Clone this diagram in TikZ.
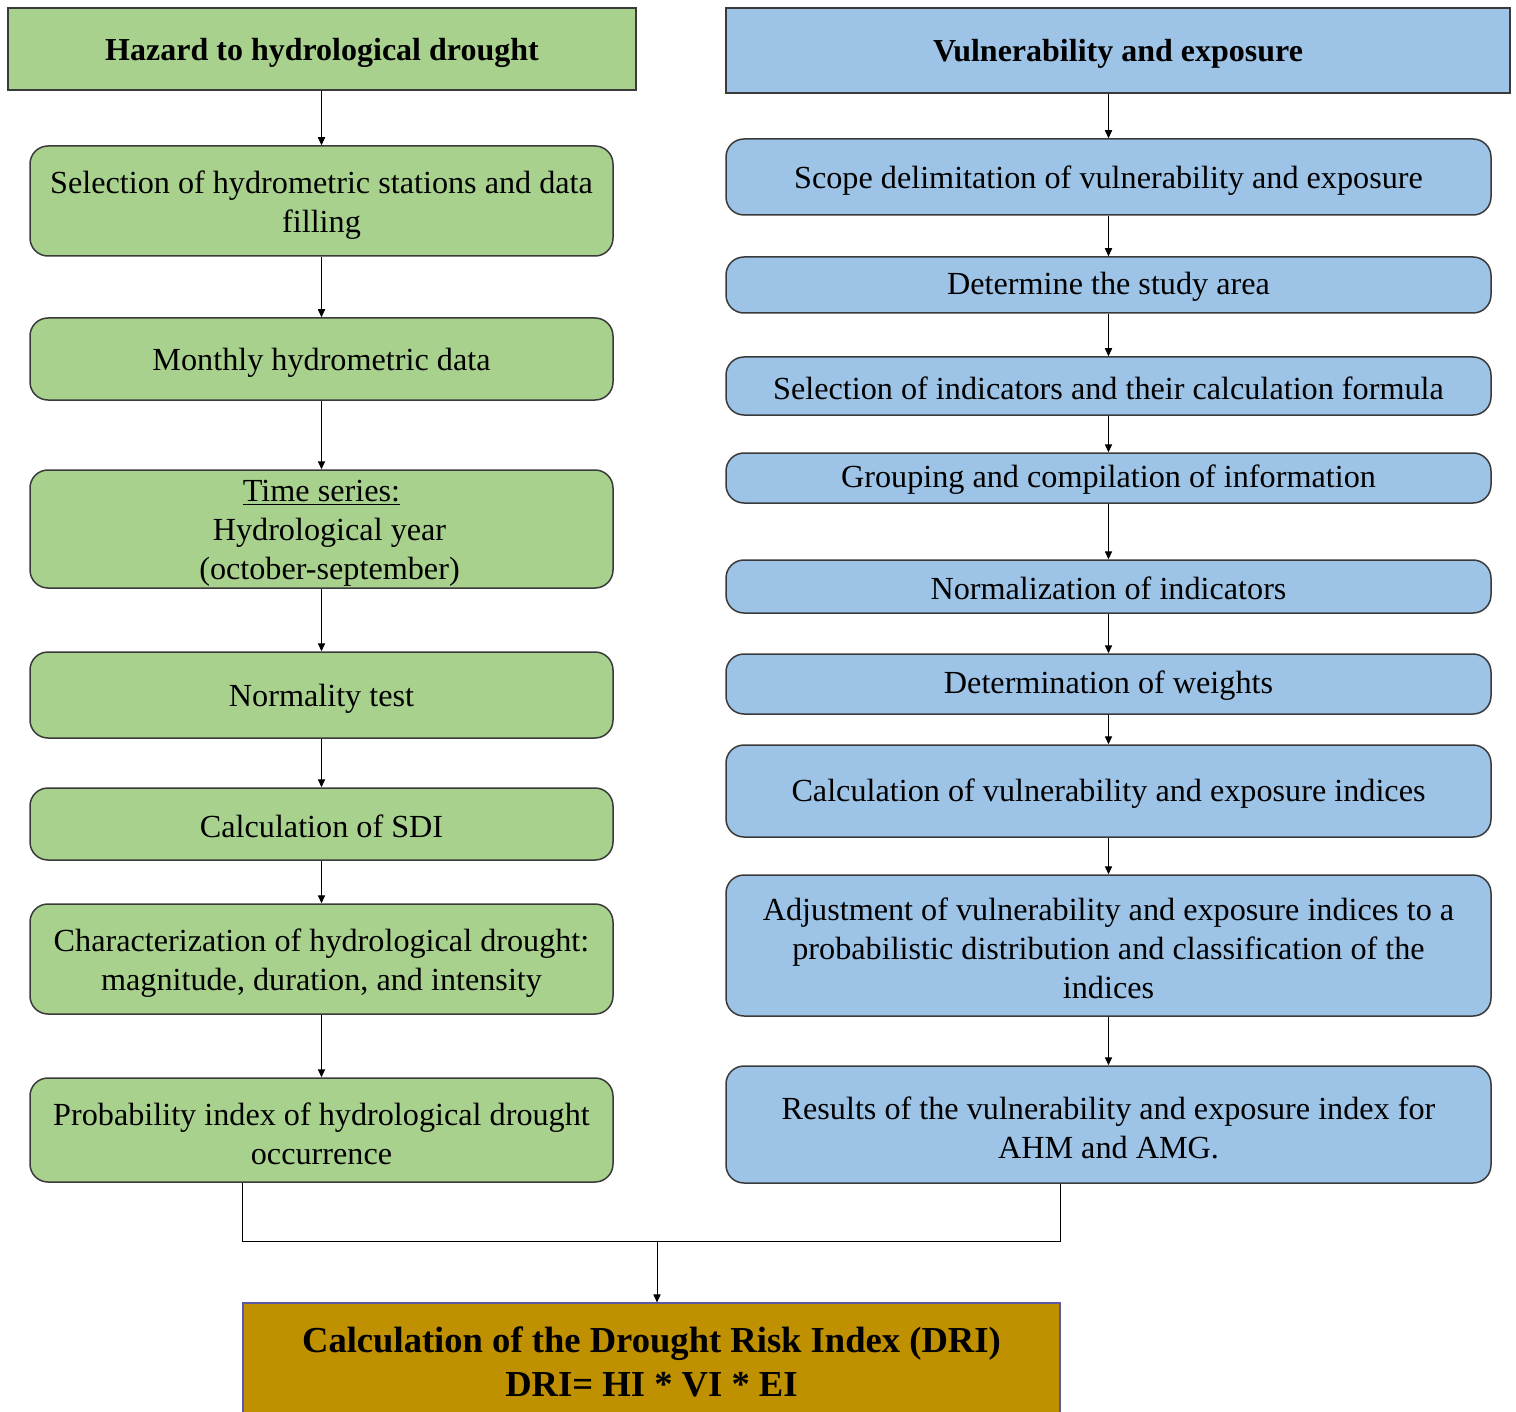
\documentclass[tikz,border=0pt]{standalone}
\usepackage{fontspec}
\setmainfont{Liberation Serif}
\usetikzlibrary{arrows.meta}
\definecolor{gfill}{HTML}{A9D18E}
\definecolor{bfill}{HTML}{9DC3E6}
\definecolor{dfill}{HTML}{BF9000}
\definecolor{edge}{HTML}{3A3A3A}
\tikzset{
  base/.style={draw=edge, line width=0.75pt, align=center, inner sep=0pt, font=\fontsize{16.1}{19.5}\selectfont},
  ghead/.style={base, fill=gfill},
  bhead/.style={base, fill=bfill},
  gbox/.style={base, fill=gfill, rounded corners=9pt, minimum width=291.5pt},
  bbox/.style={base, fill=bfill, rounded corners=9pt, minimum width=382.5pt},
  dbox/.style={draw=gray!70!blue, line width=0.6pt, fill=dfill, align=center, inner sep=0pt, font=\fontsize{18.3}{22}\selectfont\bfseries},
  txt/.style={align=center, inner sep=0pt, font=\fontsize{16.1}{19.5}\selectfont},
  htxt/.style={align=center, inner sep=0pt, font=\fontsize{16}{19.5}\selectfont\bfseries},
  arr/.style={draw=black, line width=0.5pt, -{Triangle[length=4pt,width=3.6pt]}},
  conn/.style={draw=black, line width=0.5pt}
}
\begin{document}
\begin{tikzpicture}[x=0.5pt,y=-0.5pt]
\useasboundingbox (0,0) rectangle (1516,1412);
\clip (0,0) rectangle (1516,1412);
% left column
\node[ghead, minimum width=314pt, minimum height=41pt] (lh) at (322,49) {};
\node[htxt] (lht) at ([yshift=-2pt]lh.center) {Hazard to hydrological drought};
\node[gbox, minimum height=55pt] (l1) at (321.5,201) {};
\node[txt] (l1t) at ([yshift=-2pt]l1.center) {Selection of hydrometric stations and data\\filling};
\node[gbox, minimum height=41pt] (l2) at (321.5,359) {};
\node[txt] (l2t) at ([yshift=-2pt]l2.center) {Monthly hydrometric data};
\node[gbox, minimum height=59pt] (l3) at (321.5,529) {};
\node[txt] (l3t) at ([yshift=-2pt]l3.center) {\underline{Time series:}\\\hspace*{8pt}Hydrological year\\\hspace*{8pt}(october-september)};
\node[gbox, minimum height=43pt] (l4) at (321.5,695) {};
\node[txt] (l4t) at ([yshift=-2pt]l4.center) {Normality test};
\node[gbox, minimum height=36pt] (l5) at (321.5,824) {};
\node[txt] (l5t) at ([yshift=-1pt]l5.center) {Calculation of SDI};
\node[gbox, minimum height=55pt] (l6) at (321.5,959) {};
\node[txt] (l6t) at ([yshift=-2pt]l6.center) {Characterization of hydrological drought:\\magnitude, duration, and intensity};
\node[gbox, minimum height=52pt] (l7) at (321.5,1130) {};
\node[txt] (l7t) at ([yshift=-2pt]l7.center) {Probability index of hydrological drought\\occurrence};
% right column
\node[bhead, minimum width=392pt, minimum height=42.5pt] (rh) at (1118,50.5) {};
\node[htxt] (rht) at ([yshift=-1.5pt]rh.center) {Vulnerability and exposure};
\node[bbox, minimum height=38pt] (r1) at (1108.5,177) {};
\node[txt] (r1t) at ([yshift=-2pt]r1.center) {Scope delimitation of vulnerability and exposure};
\node[bbox, minimum height=28pt] (r2) at (1108.5,285) {};
\node[txt] (r2t) at ([yshift=-1pt]r2.center) {Determine the study area};
\node[bbox, minimum height=29pt] (r3) at (1108.5,386) {};
\node[txt] (r3t) at ([yshift=-1pt]r3.center) {Selection of indicators and their calculation formula};
\node[bbox, minimum height=25pt] (r4) at (1108.5,478) {};
\node[txt] (r4t) at ([yshift=-1pt]r4.center) {Grouping and compilation of information};
\node[bbox, minimum height=26.5pt] (r5) at (1108.5,586.5) {};
\node[txt] (r5t) at ([yshift=-1pt]r5.center) {Normalization of indicators};
\node[bbox, minimum height=30pt] (r6) at (1108.5,684) {};
\node[txt] (r6t) at ([yshift=-1pt]r6.center) {Determination of weights};
\node[bbox, minimum height=46pt] (r7) at (1108.5,791) {};
\node[txt] (r7t) at ([yshift=-1.5pt]r7.center) {Calculation of vulnerability and exposure indices};
\node[bbox, minimum height=70.5pt] (r8) at (1108.5,945.5) {};
\node[txt] (r8t) at ([yshift=-1.5pt]r8.center) {Adjustment of vulnerability and exposure indices to a\\probabilistic distribution and classification of the\\indices};
\node[bbox, minimum height=58.5pt] (r9) at (1108.5,1124.5) {};
\node[txt] (r9t) at ([yshift=-1.5pt]r9.center) {Results of the vulnerability and exposure index for\\AHM and AMG.};
% result
\node[dbox, minimum width=408.5pt, minimum height=59pt] (dri) at (651.5,1362) {Calculation of the Drought Risk Index (DRI)\\DRI= HI * VI * EI};
% left arrows
\draw[arr] (lh.south -| l1.north) -- (l1.north);
\foreach \a/\b in {l1/l2,l2/l3,l3/l4,l4/l5,l5/l6,l6/l7}{\draw[arr] (\a.south) -- (\b.north);}
% right arrows
\draw[arr] (rh.south -| r1.north) -- (r1.north);
\foreach \a/\b in {r1/r2,r2/r3,r3/r4,r4/r5,r5/r6,r6/r7,r7/r8,r8/r9}{\draw[arr] (\a.south) -- (\b.north);}
% merge
\coordinate (jn) at (657,1241);
\draw[conn] (l7.south -| dri.west) -- (dri.west |- jn) -- (dri.east |- jn) -- (r9.south -| dri.east);
\draw[arr] (jn) -- (jn |- dri.north);
\end{tikzpicture}
\end{document}
